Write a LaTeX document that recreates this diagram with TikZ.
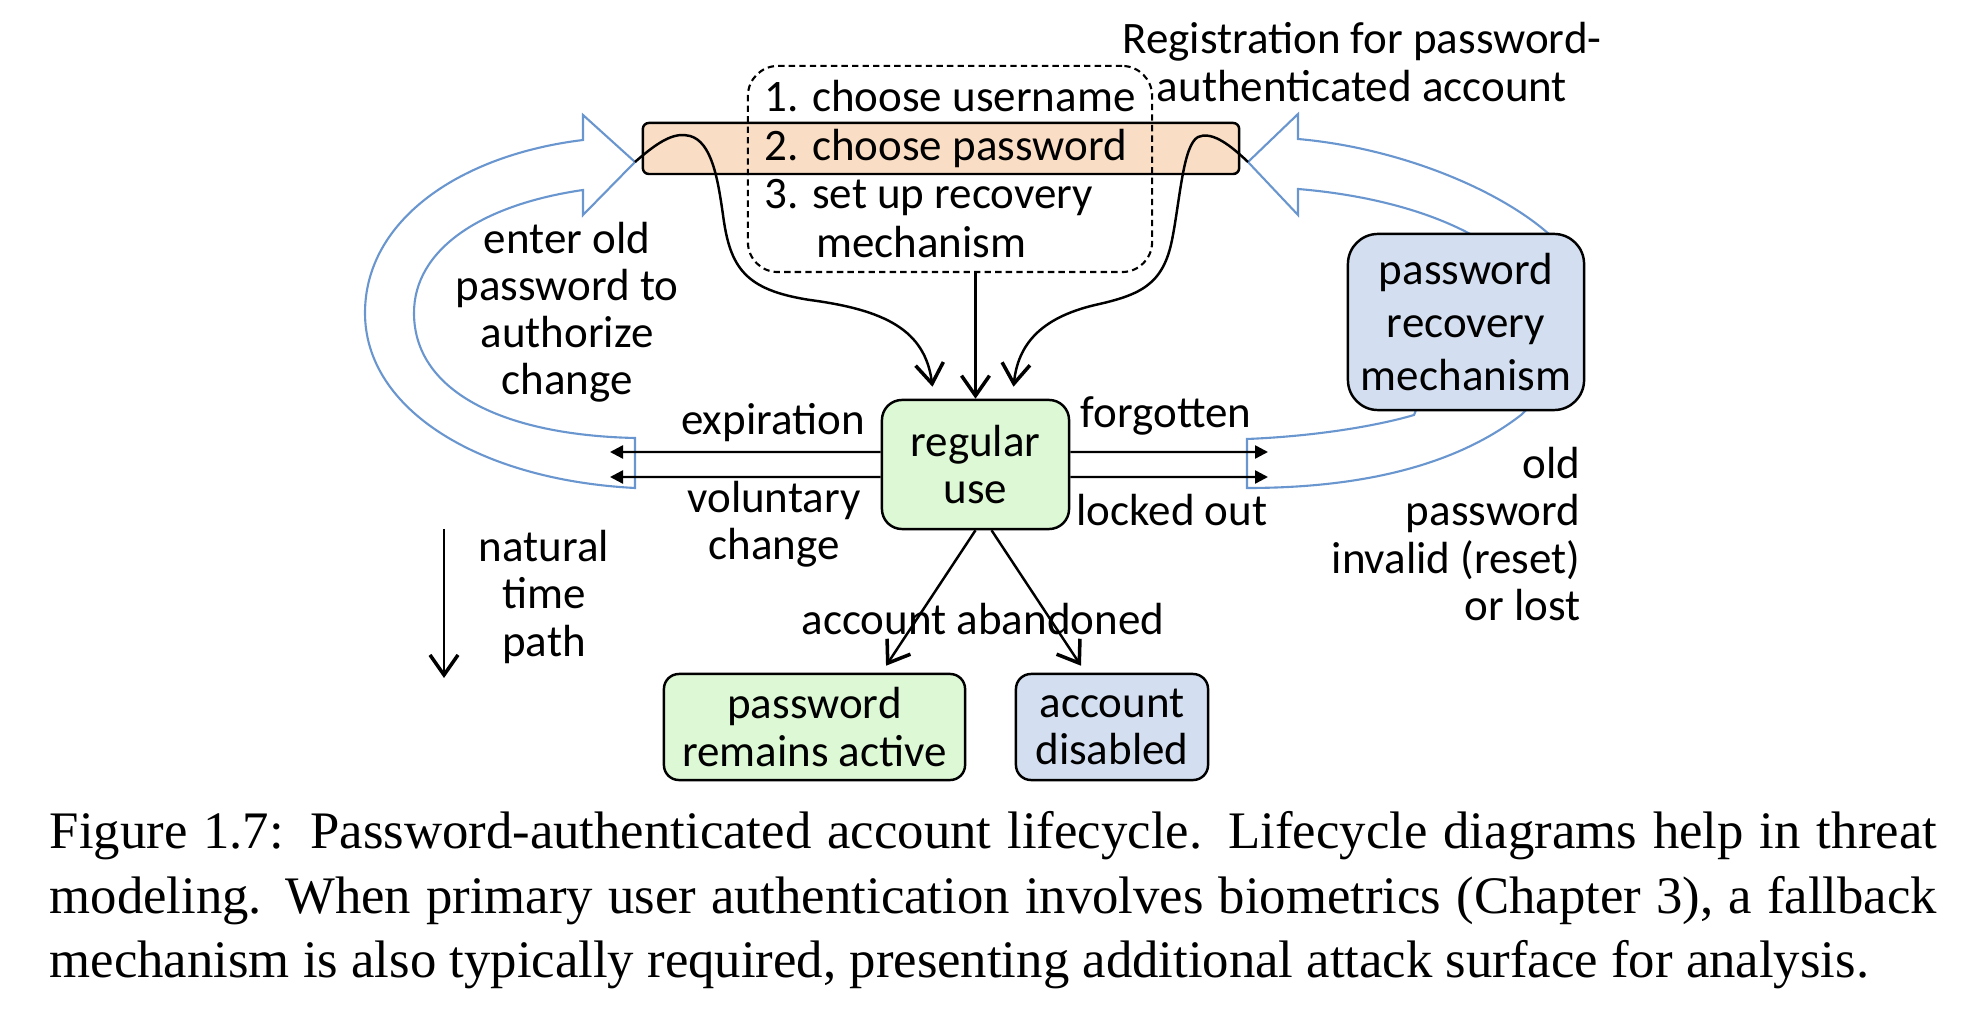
\documentclass[tikz,border=0pt]{standalone}
\usepackage{fontspec}
\setmainfont{Carlito}
\newfontfamily\capfont{Liberation Serif}
\usetikzlibrary{arrows.meta,positioning}
\definecolor{peach}{HTML}{F9DDC4}
\definecolor{lgreen}{HTML}{DCF8D4}
\definecolor{lblue}{HTML}{D3DFF0}
\definecolor{arrblue}{HTML}{6A96CF}

\begin{document}
\begin{tikzpicture}[
   x=0.01cm, y=-0.01cm,
   font=\fontsize{12.8}{13.4}\selectfont,
   box/.style={draw=black, line width=0.7pt, align=center, inner sep=0pt},
   greenbox/.style={box, fill=lgreen},
   bluebox/.style={box, fill=lblue},
   lbl/.style={align=center, inner sep=0pt},
   blockarr/.style={draw=arrblue, line width=0.6pt, fill=white, line join=miter},
   flow/.style={-{Straight Barb[length=2mm, width=2.8mm, line width=1pt]}, line width=0.7pt},
   side/.style={-{Triangle[length=1.3mm, width=1.3mm]}, line width=0.7pt},
]
  \useasboundingbox (0,0) rectangle (1976,1022);

  % hollow block arrows, drawn first
  \draw[blockarr] (635,162) -- (583,115) -- (583,140)
        .. controls (460,155) and (365,220) .. (365,313)
        .. controls (365,410) and (480,480) .. (635,488) -- (635,438)
        .. controls (500,435) and (414,390) .. (414,313)
        .. controls (414,250) and (480,205) .. (583,190) -- (583,215) -- cycle;
  \draw[blockarr] (1248,162) -- (1298,114) -- (1298,139)
        .. controls (1400,148) and (1500,190) .. (1550,235)
        .. controls (1575,270) and (1570,370) .. (1521,415)
        .. controls (1450,470) and (1350,488) .. (1247,488) -- (1247,439)
        .. controls (1320,436) and (1380,425) .. (1414,415)
        .. controls (1440,350) and (1460,280) .. (1472,235)
        .. controls (1430,212) and (1370,195) .. (1298,189) -- (1298,215) -- cycle;

  % registration
  \node[box, fill=peach, rounded corners=1.7pt, minimum width=5.96cm, minimum height=0.51cm] (reg) at (941,148.5) {};
  \node[draw, line width=0.6pt, dash pattern={on 1.8pt off 1.2pt}, rounded corners=3mm,
        minimum width=4.04cm, minimum height=2.06cm, align=left, inner sep=0pt,
        font=\fontsize{12.8}{13.9}\selectfont] (steps) at (950,169)
        {1. choose username\\2. choose password\\3. set up recovery\\\hspace*{1.15em}mechanism};
  \node[lbl] (title) at (1362,62) {Registration for password-\\authenticated account};

  % states
  \node[greenbox, rounded corners=2mm, minimum width=1.87cm, minimum height=1.29cm] (use) at (975.5,464.5) {regular\\use};
  \node[bluebox, rounded corners=3mm, minimum width=2.36cm, minimum height=1.76cm,
        font=\fontsize{12.8}{15.2}\selectfont] (recov) at (1466,322) {password\\recovery\\mechanism};
  \node[greenbox, rounded corners=1.5mm, minimum width=3.01cm, minimum height=1.06cm] (active) at (814.5,727) {password\\remains active};
  \node[bluebox, rounded corners=1.5mm, minimum width=1.92cm, minimum height=1.06cm] (disabled) at (1112,727) {account\\disabled};

  % labels
  \node[lbl] (enter) at (567,312) {enter old\\password to\\authorize\\change};
  \node[lbl] (expl) at (773,423) {expiration};
  \node[lbl] (vol) at (774,524) {voluntary\\change};
  \node[lbl] (forg) at (1166,416) {forgotten};
  \node[lbl] (lock) at (1172,510) {locked out};
  \node[lbl, anchor=east, align=right] (oldpw) at (1581,534) {old\\password\\invalid (reset)\\or lost};
  \node[lbl] (ntp) at (544,597) {natural\\time\\path};
  \node[lbl] (aband) at (983,619) {account abandoned};

  \coordinate (ltip) at (635,162);
  \coordinate (rtip) at (1248,162);
  \coordinate (expend) at (610,452);
  \coordinate (volend) at (610,477);
  \coordinate (forgend) at (1268,452);
  \coordinate (lockend) at (1268,477);
  \coordinate (ntptop) at (444,529);
  \coordinate (ntpbot) at (444,678);

  % into regular use
  \draw[flow] (steps.south -| use.north) -- (use.north);
  \draw[flow] (ltip) .. controls (660,140) and (675,132) .. (690,136)
        .. controls (712,142) and (718,180) .. (723,215)
        .. controls (730,268) and (745,290) .. (810,300)
        .. controls (885,310) and (925,330) .. ([xshift=-4.3mm,yshift=1.2mm]use.north);
  \draw[flow] (rtip) .. controls (1225,140) and (1210,132) .. (1198,137)
        .. controls (1183,145) and (1180,200) .. (1172,240)
        .. controls (1163,285) and (1140,295) .. (1095,305)
        .. controls (1040,318) and (1018,345) .. ([xshift=3.8mm,yshift=1.2mm]use.north);

  % out of regular use
  \draw[side] ([yshift=1.25mm]use.west) -- (expend);
  \draw[side] ([yshift=-1.25mm]use.west) -- (volend);
  \draw[side] ([yshift=1.25mm]use.east) -- (forgend);
  \draw[side] ([yshift=-1.25mm]use.east) -- (lockend);
  \draw[flow] (use.south) -- ([xshift=7.15mm,yshift=0.7mm]active.north);
  \draw[flow] ([xshift=1.6mm]use.south) -- ([xshift=-3.1mm,yshift=0.7mm]disabled.north);
  \draw[flow] (ntptop) -- (ntpbot);

  % caption
  \node[anchor=north west, inner sep=0pt, text width=18.86cm, align=justify,
        font=\capfont\fontsize{15}{18.3}\selectfont] (caption) at (49,811)
        {\noindent Figure 1.7:\enspace Password-authenticated account lifecycle. Lifecycle diagrams help in threat\linebreak
         modeling. When primary user authentication involves biometrics (Chapter 3), a fallback\linebreak
         mechanism is also typically required, presenting additional attack surface for analysis.};
\end{tikzpicture}
\end{document}
